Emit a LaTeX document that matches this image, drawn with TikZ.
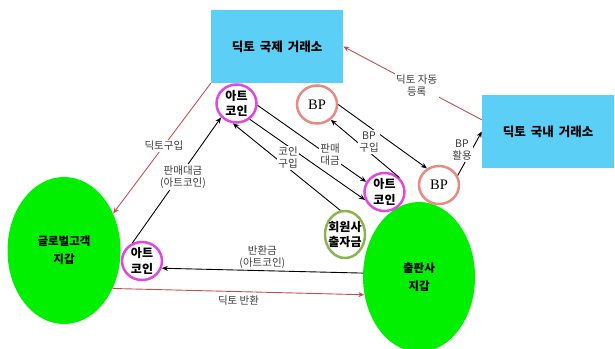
\documentclass[tikz,border=0pt]{standalone}
\usepackage{fontspec}
\setmainfont{Noto Sans CJK KR}
\newfontfamily\bpfont{Liberation Serif}
\usetikzlibrary{shapes.geometric,arrows.meta}
\definecolor{boxblue}{RGB}{91,207,245}
\definecolor{walletgreen}{RGB}{0,240,0}
\definecolor{coinpink}{RGB}{224,72,224}
\definecolor{bppink}{RGB}{230,140,130}
\definecolor{fundgreen}{RGB}{140,180,80}
\definecolor{dictored}{RGB}{192,80,77}
\definecolor{lblgray}{RGB}{60,60,60}
\newcommand{\gap}{\hspace{5pt}}

\begin{document}
\begin{tikzpicture}[x=1pt,y=-1pt,
    box/.style={rectangle, fill=boxblue, minimum width=132pt, minimum height=73pt, font=\bfseries\fontsize{12.5}{14}\selectfont},
    wallet/.style={ellipse, fill=walletgreen, align=center, font=\bfseries\fontsize{11.5}{18}\selectfont},
    ring/.style={ellipse, draw, line width=2.5pt, inner sep=-4pt, minimum width=40pt, minimum height=38pt, align=center, font=\bfseries\fontsize{12}{15.5}\selectfont},
    coin/.style={ring, draw=coinpink},
    bp/.style={ring, draw=bppink, font=\bpfont\fontsize{14.5}{15}\selectfont},
    lbl/.style={fill=white, inner sep=1.5pt, align=center, text=lblgray, font=\fontsize{10.5}{12}\selectfont},
    arr/.style={-{Stealth[length=6pt,width=5pt]}, line width=0.9pt},
    redarr/.style={arr, draw=dictored}]
            \useasboundingbox (0,0) rectangle (615,348);

            \node[box] (intl) at (277,46.5) {딕토\gap 국제\gap 거래소};
            \node[box] (dom) at (548,131.5) {딕토\gap 국내\gap 거래소};

            \node[wallet, minimum width=113pt, minimum height=147pt] (cust) at (64,250.5) {글로벌고객\\지갑};
            \node[wallet, minimum width=112pt, minimum height=150pt] (pub) at (419,277) {출판사\\지갑};

            \node[coin] (acTop) at (236.5,103.5) {아트\\코인};
            \node[coin] (acMid) at (384.5,192) {아트\\코인};
            \node[coin] (acLow) at (142,261) {아트\\코인};
            \node[bp] (bpTop) at (317,104.5) {BP};
            \node[bp] (bpRight) at (439,185) {BP};
            \node[ring, draw=fundgreen, minimum height=47pt] (fund) at (345,234.5) {회원사\\출자금};

            \draw[redarr] (intl.south west) -- node[lbl, pos=0.48] {딕토구입} (cust.37);
            \draw[redarr] (dom.170) -- node[lbl, pos=0.47] {딕토 자동\\등록} (intl.east);
            \draw[redarr] (cust.-38) -- node[lbl, fill=none, below=2pt] {딕토 반환} (pub.198);

            \draw[arr] (bpRight.27) -- (dom.west);
            \draw[arr] (bpTop.east) -- (bpRight.126);
            \draw[arr] (acMid.44) -- (bpTop.-48);
            \draw[arr] (acTop.-5) -- (acMid.151);
            \draw[arr] (acTop.-50) -- (acMid.202);
            \draw[arr] (fund.101) -- (acTop.260);
            \draw[arr] (acLow.118) -- (acTop.222);
            \draw[arr] (pub.176) -- node[lbl, fill=none, above] {반환금\\(아트코인)} (acLow.-20);

            \node[lbl] (useLbl) at (462,150) {BP\\활용};
            \node[lbl] (bpBuyLbl) at (369,142) {BP\\구입};
            \node[lbl] (payLbl) at (330,155) {판매\\대금};
            \node[lbl] (coinBuyLbl) at (288,158) {코인\\구입};
            \node[lbl] (salesLbl) at (183,177) {판매대금\\(아트코인)};
        \end{tikzpicture}
\end{document}
